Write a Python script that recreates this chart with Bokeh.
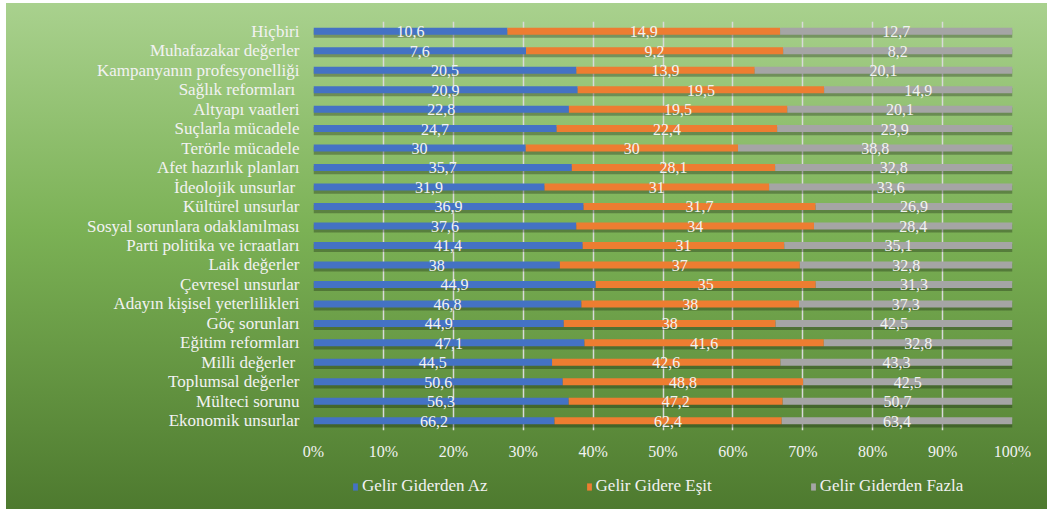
from bokeh.plotting import figure
from bokeh.layouts import column
from bokeh.models import ColumnDataSource, Range1d, NumeralTickFormatter, Legend, LegendItem, FixedTicker
from bokeh.transform import dodge
from bokeh.core.properties import value
from bokeh.embed import file_html
from bokeh.resources import INLINE

# categories from top to bottom (as read)
categories = [
    "Hiçbiri", "Muhafazakar değerler", "Kampanyanın profesyonelliği", "Sağlık reformları ",
    "Altyapı vaatleri", "Suçlarla mücadele", "Terörle mücadele", "Afet hazırlık planları",
    "İdeolojik unsurlar ", "Kültürel unsurlar", "Sosyal sorunlara odaklanılması",
    "Parti politika ve icraatları", "Laik değerler", "Çevresel unsurlar",
    "Adayın kişisel yeterlilikleri", "Göç sorunları", "Eğitim reformları", "Milli değerler ",
    "Toplumsal değerler", "Mülteci sorunu", "Ekonomik unsurlar",
]
gelir_az = [10.6, 7.6, 20.5, 20.9, 22.8, 24.7, 30, 35.7, 31.9, 36.9, 37.6, 41.4, 38, 44.9, 46.8, 44.9, 47.1, 44.5, 50.6, 56.3, 66.2]
gelir_esit = [14.9, 9.2, 13.9, 19.5, 19.5, 22.4, 30, 28.1, 31, 31.7, 34, 31, 37, 35, 38, 38, 41.6, 42.6, 48.8, 47.2, 62.4]
gelir_fazla = [12.7, 8.2, 20.1, 14.9, 20.1, 23.9, 38.8, 32.8, 33.6, 26.9, 28.4, 35.1, 32.8, 31.3, 37.3, 42.5, 32.8, 43.3, 42.5, 50.7, 63.4]
series_names = ["Gelir Giderden Az", "Gelir Gidere Eşit", "Gelir Giderden Fazla"]
series_colors = ["#4472c4", "#ed7d31", "#a5a5a5"]
x_ticks = [0, 0.1, 0.2, 0.3, 0.4, 0.5, 0.6, 0.7, 0.8, 0.9, 1.0]

FONT = "Liberation Serif"
TXT = "#f2f2f2"

def fmt(v):
    return f"{v:g}".replace(".", ",")

totals = [a + b + c for a, b, c in zip(gelir_az, gelir_esit, gelir_fazla)]
fa = [a / t for a, t in zip(gelir_az, totals)]
fb = [b / t for b, t in zip(gelir_esit, totals)]
fc = [c / t for c, t in zip(gelir_fazla, totals)]

src = ColumnDataSource(dict(cat=categories, fa=fa, fb=fb, fc=fc, one=[1.0] * len(categories)))

factors = list(reversed(categories))
p = figure(width=1041, height=460, y_range=factors, x_range=Range1d(0, 1),
           output_backend="svg", toolbar_location=None, margin=0,
           min_border_left=307, min_border_right=35, min_border_top=18, min_border_bottom=33)
p.background_fill_alpha = 0
p.border_fill_alpha = 0
p.outline_line_color = None

# shadows
p.hbar(y=dodge("cat", -0.13, range=p.y_range), left=0, right="one", height=0.42,
       source=src, fill_color="black", fill_alpha=0.28, line_color=None)

rs = p.hbar_stack(["fa", "fb", "fc"], y="cat", height=0.36, color=series_colors,
                  line_color=None, source=src)

# labels
lx, ly, lt = [], [], []
for i, c in enumerate(categories):
    cum = 0
    for frac, raw in ((fa[i], gelir_az[i]), (fb[i], gelir_esit[i]), (fc[i], gelir_fazla[i])):
        lx.append(cum + frac / 2)
        ly.append(c)
        lt.append(fmt(raw))
        cum += frac
lsrc = ColumnDataSource(dict(x=lx, y=ly, t=lt))
p.text(x="x", y=dodge("y", -0.02, range=p.y_range), text="t", source=lsrc,
       text_font=value(FONT), text_font_size="16px", text_color=TXT,
       text_align="center", text_baseline="middle")

p.xaxis.ticker = FixedTicker(ticks=x_ticks)
p.xaxis.formatter = NumeralTickFormatter(format="0%")
for ax in (p.xaxis[0], p.yaxis[0]):
    ax.axis_line_color = None
    ax.major_tick_line_color = None
    ax.minor_tick_line_color = None
    ax.major_label_text_font = FONT
    ax.major_label_text_color = TXT
p.xaxis.major_label_text_font_size = "16px"
p.yaxis.major_label_text_font_size = "17px"
p.xaxis.major_label_standoff = 6
p.yaxis.major_label_standoff = 8

p.xgrid.grid_line_color = "#d9d9d9"
p.xgrid.grid_line_width = 1.5
p.ygrid.grid_line_color = None

# legend strip below the chart (its frame is aligned with the chart frame by the column)
leg = figure(width=1041, height=46, x_range=Range1d(0, 1), y_range=Range1d(0, 1),
             output_backend="svg", toolbar_location=None, margin=0,
             min_border=0, min_border_left=0, min_border_right=0, min_border_top=0, min_border_bottom=0)
leg.axis.visible = False
leg.grid.visible = False
leg.background_fill_alpha = 0
leg.border_fill_alpha = 0
leg.outline_line_color = None
dummy = ColumnDataSource(dict(y=[5.0], l=[5.0], r=[6.0]))
drs = [leg.hbar(y="y", left="l", right="r", height=1, source=dummy, color=c, line_color=None)
       for c in series_colors]
legend = Legend(items=[LegendItem(label=n, renderers=[r]) for n, r in zip(series_names, drs)],
                orientation="horizontal", location=(39, 13),
                background_fill_alpha=0, border_line_color=None,
                label_text_font=FONT, label_text_font_size="17px", label_text_color=TXT,
                glyph_width=6, glyph_height=9, label_standoff=4, spacing=98,
                padding=0, margin=0)
leg.add_layout(legend, "center")

layout = column(p, leg, spacing=0, margin=(3, 6, 3, 6))
layout.styles = {"background-image": "linear-gradient(to bottom, #a9d18e 0%, #7bb155 45%, #4e7a2f 100%)"}

open("out.html", "w").write(file_html(layout, INLINE))
